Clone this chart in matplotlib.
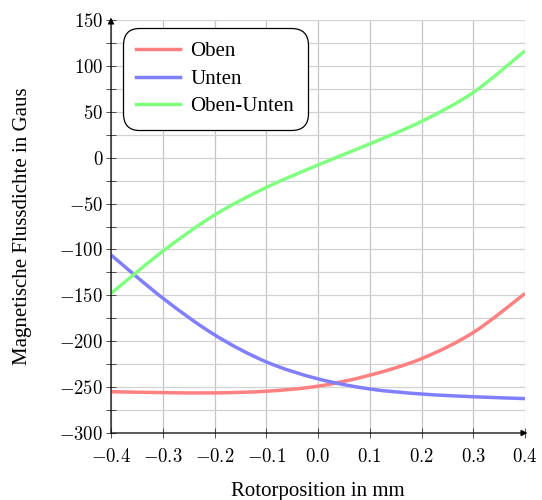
import matplotlib
matplotlib.use("Agg")
import matplotlib.pyplot as plt
from matplotlib.ticker import MultipleLocator, FuncFormatter
from matplotlib.path import Path
from matplotlib.patches import PathPatch
from matplotlib.lines import Line2D

plt.rcParams['font.family'] = ['Liberation Serif', 'DejaVu Serif']
plt.rcParams['mathtext.fontset'] = 'cm'

# Rotor position (mm) and flux density (Gauss)
position = [-0.4, -0.3, -0.2, -0.1, 0.0, 0.1, 0.2, 0.3, 0.4]
oben = [-255, -256, -256.3, -254.5, -249, -237, -219, -190.5, -148]
unten = [-106, -153, -193, -222.5, -241, -252, -257.5, -260.5, -262.5]
oben_unten = [-148, -102, -62.5, -32.5, -8, 15, 39.5, 71, 116.5]

series = [
    ("Oben", oben, "#ff8080"),
    ("Unten", unten, "#8080ff"),
    ("Oben-Unten", oben_unten, "#80ff80"),
]

LW = 2.5


def smooth_path(xs, ys, tension=0.5):
    """Cubic Bezier path through the points (Catmull-Rom style)."""
    verts = [(xs[0], ys[0])]
    codes = [Path.MOVETO]
    n = len(xs)
    for i in range(n - 1):
        x0, y0 = (xs[i - 1], ys[i - 1]) if i > 0 else (xs[i], ys[i])
        x1, y1 = xs[i], ys[i]
        x2, y2 = xs[i + 1], ys[i + 1]
        x3, y3 = (xs[i + 2], ys[i + 2]) if i + 2 < n else (xs[i + 1], ys[i + 1])
        c1 = (x1 + (x2 - x0) * tension / 3, y1 + (y2 - y0) * tension / 3)
        c2 = (x2 - (x3 - x1) * tension / 3, y2 - (y3 - y1) * tension / 3)
        verts += [c1, c2, (x2, y2)]
        codes += [Path.CURVE4] * 3
    return Path(verts, codes)


fig = plt.figure(figsize=(5.42, 5.0), dpi=100)
ax = fig.add_axes([111 / 542, 1 - 433 / 500, (525 - 111) / 542, (433 - 20) / 500])

handles = []
for name, vals, col in series:
    patch = PathPatch(smooth_path(position, vals, tension=0.5), facecolor='none',
                      edgecolor=col, lw=LW, capstyle='butt', zorder=3)
    ax.add_patch(patch)
    handles.append(Line2D([], [], color=col, lw=LW, label=name))

ax.set_xlim(-0.4, 0.4)
ax.set_ylim(-300, 150)
ax.xaxis.set_major_locator(MultipleLocator(0.1))
ax.yaxis.set_major_locator(MultipleLocator(50))
ax.yaxis.set_minor_locator(MultipleLocator(25))


def fmt_x(v, _):
    s = f"{v:.1f}"
    if s == "-0.0":
        s = "0.0"
    return f"${s}$"


def fmt_y(v, _):
    return f"${int(round(v))}$"


ax.xaxis.set_major_formatter(FuncFormatter(fmt_x))
ax.yaxis.set_major_formatter(FuncFormatter(fmt_y))

ax.grid(True, axis='x', which='major', color='#c4c4c4', lw=0.9, zorder=0)
ax.grid(True, axis='y', which='both', color='#d2d2d2', lw=0.9, zorder=0)
ax.set_axisbelow(True)

for sp in ax.spines.values():
    sp.set_visible(False)

ax.tick_params(axis='both', which='both', direction='inout', length=7, width=0.6,
               color='#333333', labelsize=13.5, pad=2)
ax.tick_params(axis='x', which='major', pad=7.5)

# axis lines with arrow heads
ax.annotate("", xy=(0, 1.006), xytext=(0, 0), xycoords='axes fraction',
            arrowprops=dict(arrowstyle='-|>', color='black', lw=0.9,
                            mutation_scale=9, shrinkA=0, shrinkB=0), zorder=5)
ax.annotate("", xy=(1.006, 0), xytext=(0, 0), xycoords='axes fraction',
            arrowprops=dict(arrowstyle='-|>', color='black', lw=0.9,
                            mutation_scale=9, shrinkA=0, shrinkB=0), zorder=5)

ax.set_xlabel("Rotorposition in mm", fontsize=15, labelpad=11)
ax.set_ylabel("Magnetische Flussdichte in Gaus", fontsize=15, labelpad=20)

leg = ax.legend(handles=handles, loc='upper left', bbox_to_anchor=(0.038, 0.97),
                fontsize=15, frameon=True, fancybox=True, framealpha=1,
                edgecolor='black', handlelength=2.1, handletextpad=0.5,
                borderpad=0.45, labelspacing=0.38, borderaxespad=0)
leg.get_frame().set_linewidth(0.9)
leg.get_frame().set_boxstyle('round', pad=0.2, rounding_size=0.8)

fig.savefig("out.png", dpi=100)
